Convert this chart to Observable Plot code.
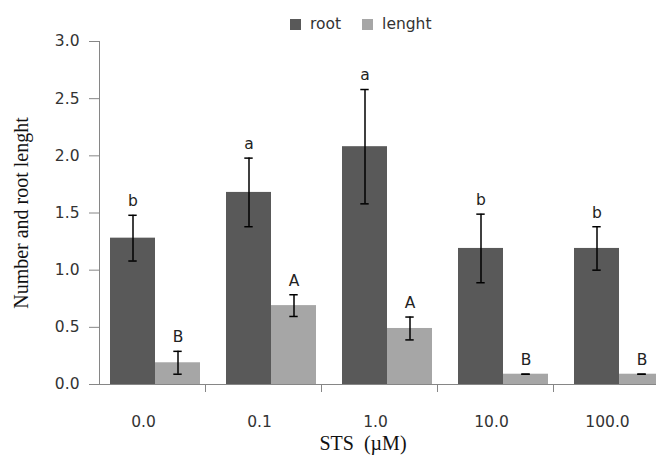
<!DOCTYPE html>
<html>
<head>
<meta charset="utf-8">
<script src="https://cdn.jsdelivr.net/npm/d3@7"></script>
<script src="https://cdn.jsdelivr.net/npm/@observablehq/plot@0.6"></script>
<style>
  html, body { margin: 0; padding: 0; background: #fff; overflow: hidden; }
  #wrap { position: relative; width: 656px; height: 457px; overflow: hidden; background: #fff; }
  #legend { position: absolute; top: 15px; left: 290px; font: 15.5px "DejaVu Sans", sans-serif; color: #333; display: flex; align-items: center; white-space: nowrap; }
  #legend .sw { display: inline-block; width: 11px; height: 11px; margin-right: 9px; }
  #legend .item { display: flex; align-items: center; margin-right: 21px; }
  #ylabel { position: absolute; left: 21px; top: 213px; transform: translate(-50%, -50%) rotate(-90deg); font: 20px "Liberation Serif", serif; color: #111; white-space: nowrap; }
  #xlabel { position: absolute; left: 363px; top: 443px; transform: translate(-50%, -50%); font: 20px "Liberation Serif", serif; color: #111; white-space: pre; }
</style>
</head>
<body>
<div id="wrap">
  <div id="chart"></div>
  <div id="legend"></div>
  <div id="ylabel"></div>
  <div id="xlabel"></div>
</div>
<script>
// ---- data ----
const categories = ["0.0", "0.1", "1.0", "10.0", "100.0"];
const seriesNames = ["root", "lenght"];
const rootValues = [1.28, 1.68, 2.08, 1.19, 1.19];
const rootErrors = [0.2, 0.3, 0.5, 0.3, 0.19];
const rootLetters = ["b", "a", "a", "b", "b"];
const lengthValues = [0.19, 0.69, 0.49, 0.09, 0.09];
const lengthErrors = [0.1, 0.095, 0.1, 0, 0];
const lengthLetters = ["B", "A", "A", "B", "B"];
const yTicks = [0, 0.5, 1, 1.5, 2, 2.5, 3];
const yTitle = "Number and root lenght";
const xTitle = "STS  (\u00B5M)";
const seriesColors = ["#595959", "#a6a6a6"];

// ---- table for the library ----
const rows = [];
categories.forEach((c, i) => {
  rows.push({cat: c, series: seriesNames[0], value: rootValues[i], error: rootErrors[i], letter: rootLetters[i]});
  rows.push({cat: c, series: seriesNames[1], value: lengthValues[i], error: lengthErrors[i], letter: lengthLetters[i]});
});

const plot = Plot.plot({
  width: 680,
  height: 457,
  marginLeft: 98,
  marginRight: 0,
  marginTop: 41,
  marginBottom: 73,
  style: {fontFamily: "'DejaVu Sans', sans-serif", fontSize: "15.5px", color: "#333", maxWidth: "none", background: "transparent", overflow: "visible"},
  fx: {domain: categories, padding: 0, label: null},
  x: {domain: seriesNames, paddingInner: 0, paddingOuter: 0.275, align: 0.44, axis: null},
  y: {domain: [0, 3], label: null},
  color: {domain: seriesNames, range: seriesColors},
  marks: [
    Plot.barY(rows, {fx: "cat", x: "series", y: "value", fill: "series"}),
    Plot.ruleY([0], {stroke: "#868686", insetLeft: -3}),
    Plot.frame({anchor: "left", facetAnchor: "left", stroke: "#868686"}),
    Plot.axisY({ticks: yTicks, tickSize: 10, tickPadding: 10, tickFormat: d3.format(".1f"), stroke: "#868686", fill: "#333", label: null}),
    Plot.axisFx({anchor: "bottom", tickSize: 8, tickFormat: () => "", dx: 48, stroke: "#868686", label: null}),
    Plot.axisFx({anchor: "bottom", tickSize: 0, tickPadding: 31, dx: -14, fill: "#333", label: null}),
    Plot.ruleX(rows, {fx: "cat", x: "series", y1: d => d.value - d.error, y2: d => d.value + d.error, stroke: "#000", strokeWidth: 1.5}),
    Plot.tickY(rows, {fx: "cat", x: "series", y: d => d.value + d.error, stroke: "#000", strokeWidth: 1.5, insetLeft: 18.3, insetRight: 18.3}),
    Plot.tickY(rows, {fx: "cat", x: "series", y: d => d.value - d.error, stroke: "#000", strokeWidth: 1.5, insetLeft: 18.3, insetRight: 18.3}),
    Plot.text(rows, {fx: "cat", x: "series", y: d => d.value + d.error, text: "letter", dy: -14, fill: "#222"})
  ]
});
document.getElementById("chart").appendChild(plot);

// legend
const legend = document.getElementById("legend");
seriesNames.forEach((s, i) => {
  const item = document.createElement("span");
  item.className = "item";
  const sw = document.createElement("span");
  sw.className = "sw";
  sw.style.background = seriesColors[i];
  item.appendChild(sw);
  item.appendChild(document.createTextNode(s));
  legend.appendChild(item);
});
document.getElementById("ylabel").textContent = yTitle;
document.getElementById("xlabel").textContent = xTitle;
</script>
</body>
</html>
